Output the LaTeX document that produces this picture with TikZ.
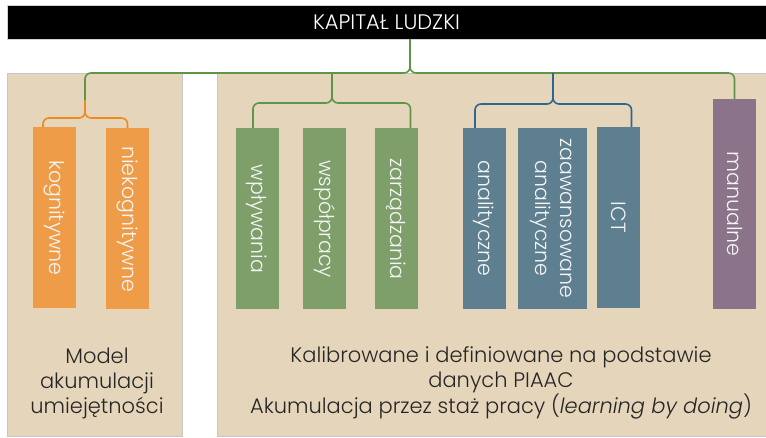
\documentclass[tikz,border=0pt]{standalone}
\usepackage{fontspec}
\setmainfont{Poppins}[UprightFont={* Light}, ItalicFont={* Light Italic}]
\definecolor{beige}{HTML}{E5D5BA}
\definecolor{orbox}{HTML}{EE9C47}
\definecolor{grbox}{HTML}{7F9F6A}
\definecolor{blbox}{HTML}{5E7F8F}
\definecolor{pubox}{HTML}{8B7389}
\definecolor{grline}{HTML}{5E9548}
\definecolor{orline}{HTML}{EE8A21}
\definecolor{blline}{HTML}{2F6690}
\tikzset{
panel/.style={draw=gray!45, fill=beige, inner sep=0pt}, % background panels
box/.style={inner sep=0pt, minimum width=43pt, minimum height=181pt, text=white!96!black, font=\fontsize{20.5}{25}\selectfont}, % skill boxes
link/.style={line width=1.6pt, rounded corners=6pt}, % bracket lines
note/.style={align=center, text=black!85, font=\fontsize{21}{25}\selectfont}, % panel captions
}

\begin{document}
\begin{tikzpicture}[x=1pt, y=-1pt]
    \useasboundingbox (0,0) rectangle (766,438);
    \node[fill=black, draw=gray!35, inner sep=0pt, minimum width=759pt, minimum height=34pt, text=white, font=\fontsize{21}{24}\selectfont] at (386.5,22) (title) {KAPITAŁ LUDZKI};
    \node[panel, minimum width=175pt, minimum height=363pt] at (94.5,254.5) (pmodel) {};
    \node[panel, minimum width=550pt, minimum height=363pt] at (492,254.5) (ppiaac) {};
    \node[note] at (97,383) (mtext) {Model\\akumulacji\\umiejętności};
    \node[note] at (501,383) (ptext) {Kalibrowane i definiowane na podstawie\\danych PIAAC\\Akumulacja przez staż pracy (\textit{learning by doing})};
    \node[box, fill=orbox] at (54,218) (kog) {\rotatebox{-90}{kognitywne}};
    \node[box, fill=orbox] at (127.5,219) (niek) {\rotatebox{-90}{niekognitywne}};
    \node[box, fill=grbox] at (257,219) (wp) {\rotatebox{-90}{wpływania}};
    \node[box, fill=grbox] at (324.5,219) (ws) {\rotatebox{-90}{współpracy}};
    \node[box, fill=grbox] at (396.5,219) (zar) {\rotatebox{-90}{zarządzania}};
    \node[box, fill=blbox] at (484,218.5) (an) {\rotatebox{-90}{analityczne}};
    \node[box, fill=blbox, minimum width=69pt] at (552.5,218.5) (zaaw) {\rotatebox{-90}{\begin{tabular}{@{}c@{}}zaawansowane\\analityczne\end{tabular}}};
    \node[box, fill=blbox] at (618.5,217.5) (ict) {\rotatebox{-90}{ICT}};
    \node[box, fill=pubox, minimum height=210pt] at (734.5,204) (man) {\rotatebox{-90}{manualne}};
    \coordinate (tcusp) at (410,73);
    \coordinate (gcusp) at (332,103);
    \coordinate (bcusp) at (553,104);
    \coordinate (ocusp) at (85,118);
    \coordinate (ojoin) at (85,100);
    \draw[link, grline]
    (ojoin) |- (tcusp) -- (tcusp |- title.south)
    (man.north) |- (tcusp) -- (tcusp |- title.south)
    ([xshift=-4pt]wp.north) |- (gcusp) -- (gcusp |- tcusp)
    ([xshift=14pt]zar.north) |- (gcusp) -- (gcusp |- tcusp);
    \draw[link, blline]
    ([xshift=-9pt]an.north) |- (bcusp) -- (bcusp |- tcusp)
    ([xshift=13pt]ict.north) |- (bcusp) -- (bcusp |- tcusp);
    \draw[link, orline]
    ([xshift=-11pt]kog.north) |- (ocusp) -- (ojoin)
    (niek.north) |- (ocusp) -- (ojoin);
\end{tikzpicture}
\end{document}
